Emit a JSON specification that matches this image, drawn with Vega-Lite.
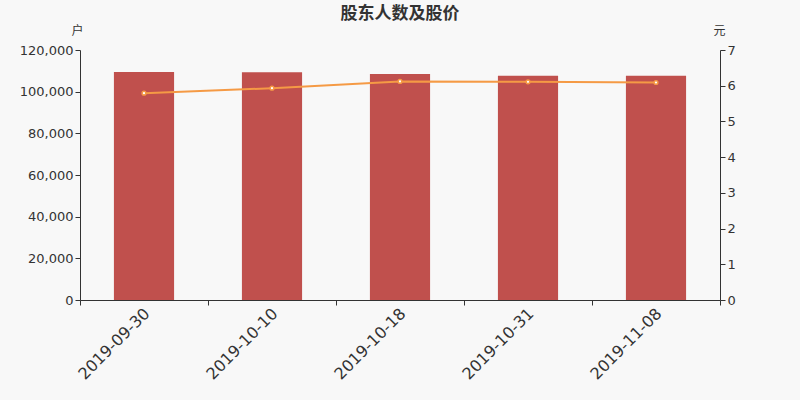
{
  "$schema": "https://vega.github.io/schema/vega-lite/v6.json",
  "autosize": "none",
  "width": 640,
  "height": 250,
  "padding": {"left": 80, "top": 50, "right": 80, "bottom": 100},
  "background": "#f8f8f8",
  "title": {
    "text": "股东人数及股价",
    "fontSize": 17,
    "fontWeight": "bold",
    "color": "#333333",
    "font": "Noto Sans CJK SC",
    "anchor": "middle",
    "offset": 1
  },
  "config": {
    "view": {"stroke": null},
    "font": "DejaVu Sans",
    "axis": {
      "grid": false,
      "domainColor": "#333333",
      "tickColor": "#333333",
      "labelColor": "#333333",
      "titleColor": "#333333"
    }
  },
  "data": {
    "values": [
      {"date": "2019-09-30", "holders": 109400, "price": 5.79},
      {"date": "2019-10-10", "holders": 109300, "price": 5.93},
      {"date": "2019-10-18", "holders": 108500, "price": 6.12},
      {"date": "2019-10-31", "holders": 107700, "price": 6.11},
      {"date": "2019-11-08", "holders": 107600, "price": 6.09}
    ]
  },
  "encoding": {
    "x": {
      "field": "date",
      "type": "ordinal",
      "scale": {"paddingInner": 0, "paddingOuter": 0},
      "axis": {
        "title": null,
        "labelAngle": -45,
        "labelFontSize": 16,
        "tickBand": "extent",
        "tickSize": 5,
        "labelPadding": 0,
        "labelOffset": -3
      }
    }
  },
  "layer": [
    {
      "mark": {"type": "bar", "color": "#c0504d", "width": {"band": 0.47}},
      "encoding": {
        "y": {
          "field": "holders",
          "type": "quantitative",
          "scale": {"domain": [0, 120000]},
          "axis": {
            "title": "户",
            "titleAngle": 0,
            "titleFont": "Noto Sans CJK SC",
            "titleFontWeight": "normal",
            "titleFontSize": 12,
            "titleX": -3,
            "titleY": -13,
            "titleAlign": "center",
            "values": [0, 20000, 40000, 60000, 80000, 100000, 120000],
            "format": ",d",
            "labelFontSize": 13,
            "tickSize": 5
          }
        }
      }
    },
    {
      "mark": {"type": "line", "color": "#f59a45", "strokeWidth": 2},
      "encoding": {
        "y": {
          "field": "price",
          "type": "quantitative",
          "scale": {"domain": [0, 7]},
          "axis": {
            "orient": "right",
            "title": "元",
            "titleAngle": 0,
            "titleFont": "Noto Sans CJK SC",
            "titleFontWeight": "normal",
            "titleFontSize": 12,
            "titleX": -1,
            "titleY": -13,
            "titleAlign": "center",
            "values": [0, 1, 2, 3, 4, 5, 6, 7],
            "labelFontSize": 13,
            "tickSize": 5
          }
        }
      }
    },
    {
      "mark": {"type": "point", "filled": true, "fill": "#ffffff", "stroke": "#f59a45", "strokeWidth": 1.5, "size": 14, "opacity": 1},
      "encoding": {
        "y": {"field": "price", "type": "quantitative", "scale": {"domain": [0, 7]}, "axis": null}
      }
    }
  ],
  "resolve": {"scale": {"y": "independent"}}
}
